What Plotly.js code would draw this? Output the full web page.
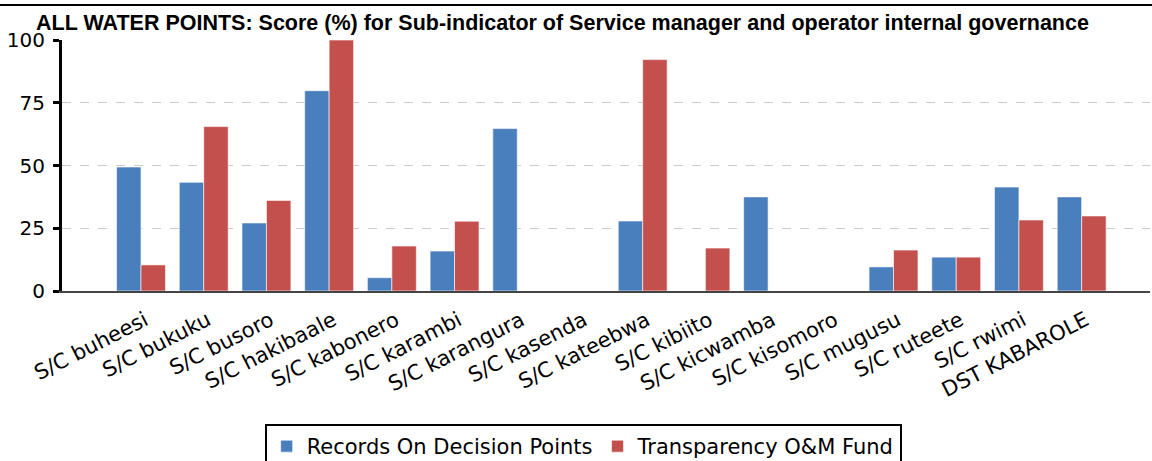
<!DOCTYPE html>
<html>
<head>
<meta charset="utf-8">
<script src="https://cdn.plot.ly/plotly-3.0.1.min.js"></script>
<style>html,body{margin:0;padding:0;background:#fff;}#chart{width:1152px;height:461px;}</style>
</head>
<body>
<div id="chart"></div>
<script>
const categories = ["S/C buheesi","S/C bukuku","S/C busoro","S/C hakibaale","S/C kabonero","S/C karambi","S/C karangura","S/C kasenda","S/C kateebwa","S/C kibiito","S/C kicwamba","S/C kisomoro","S/C mugusu","S/C ruteete","S/C rwimi","DST KABAROLE"];
const recordsOnDecisionPoints = [49.4, 43.3, 27.1, 79.8, 5.3, 15.9, 64.7, 0, 27.9, 0, 37.5, 0, 9.6, 13.5, 41.4, 37.5];
const transparencyOMFund = [10.4, 65.5, 36.1, 100, 17.9, 27.8, 0, 0, 92.2, 17.1, 0, 0, 16.3, 13.5, 28.3, 29.9];
const yTicks = [0, 25, 50, 75, 100];
const seriesNames = ["Records On Decision Points", "Transparency O&M Fund"];

const data = [
  {type:'bar', x:categories, y:recordsOnDecisionPoints, name:seriesNames[0],
   marker:{color:'#4a7fbe', line:{color:'rgba(255,255,255,0.6)', width:1}}},
  {type:'bar', x:categories, y:transparencyOMFund, name:seriesNames[1],
   marker:{color:'#c4504d', line:{color:'rgba(255,255,255,0.6)', width:1}}}
];

const layout = {
  width:1152, height:461,
  margin:{l:62, r:2, t:40, b:170, autoexpand:false},
  paper_bgcolor:'#fff', plot_bgcolor:'#fff',
  barmode:'group', bargap:0.22, bargroupgap:0,
  font:{family:'DejaVu Sans, Verdana, sans-serif', size:20, color:'#000'},
  title:{text:'<b>ALL WATER POINTS: Score (%) for Sub-indicator of Service manager and operator internal governance</b>',
    font:{family:'Liberation Sans, Arial, sans-serif', size:21.5, color:'#000'},
    x:36/1152, xanchor:'left', xref:'container', y:1-22/461, yanchor:'middle', yref:'container'},
  xaxis:{type:'category', range:[-1.26, 16.09], tickangle:-27, showgrid:false,
    showline:true, linecolor:'#444', linewidth:2, ticks:'', zeroline:false,
    ticklabelshift:4, ticklabelstandoff:7,
    tickfont:{size:21, family:'DejaVu Sans, Verdana, sans-serif'}},
  yaxis:{range:[0,100], tickvals:yTicks, ticks:'outside', ticklen:6, tickwidth:3, tickcolor:'#000',
    showline:true, linecolor:'#000', linewidth:3, showgrid:true, gridcolor:'#cccccc', griddash:'dash', gridwidth:1,
    zeroline:false, tickfont:{size:20}, ticklabelstandoff:4},
  legend:{orientation:'h', x:0.479, xanchor:'center', y:1-424/461, yanchor:'top', yref:'container',
    bordercolor:'#000', borderwidth:2, font:{size:21}, itemwidth:30, traceorder:'normal'},
  shapes:[{type:'line', xref:'paper', yref:'paper', x0:-62/1088, x1:1090/1088, y0:(291-5)/251, y1:(291-5)/251,
    line:{color:'#000', width:2}}],
  showlegend:true
};
Plotly.newPlot('chart', data, layout, {displayModeBar:false, staticPlot:true});
</script>
</body>
</html>
